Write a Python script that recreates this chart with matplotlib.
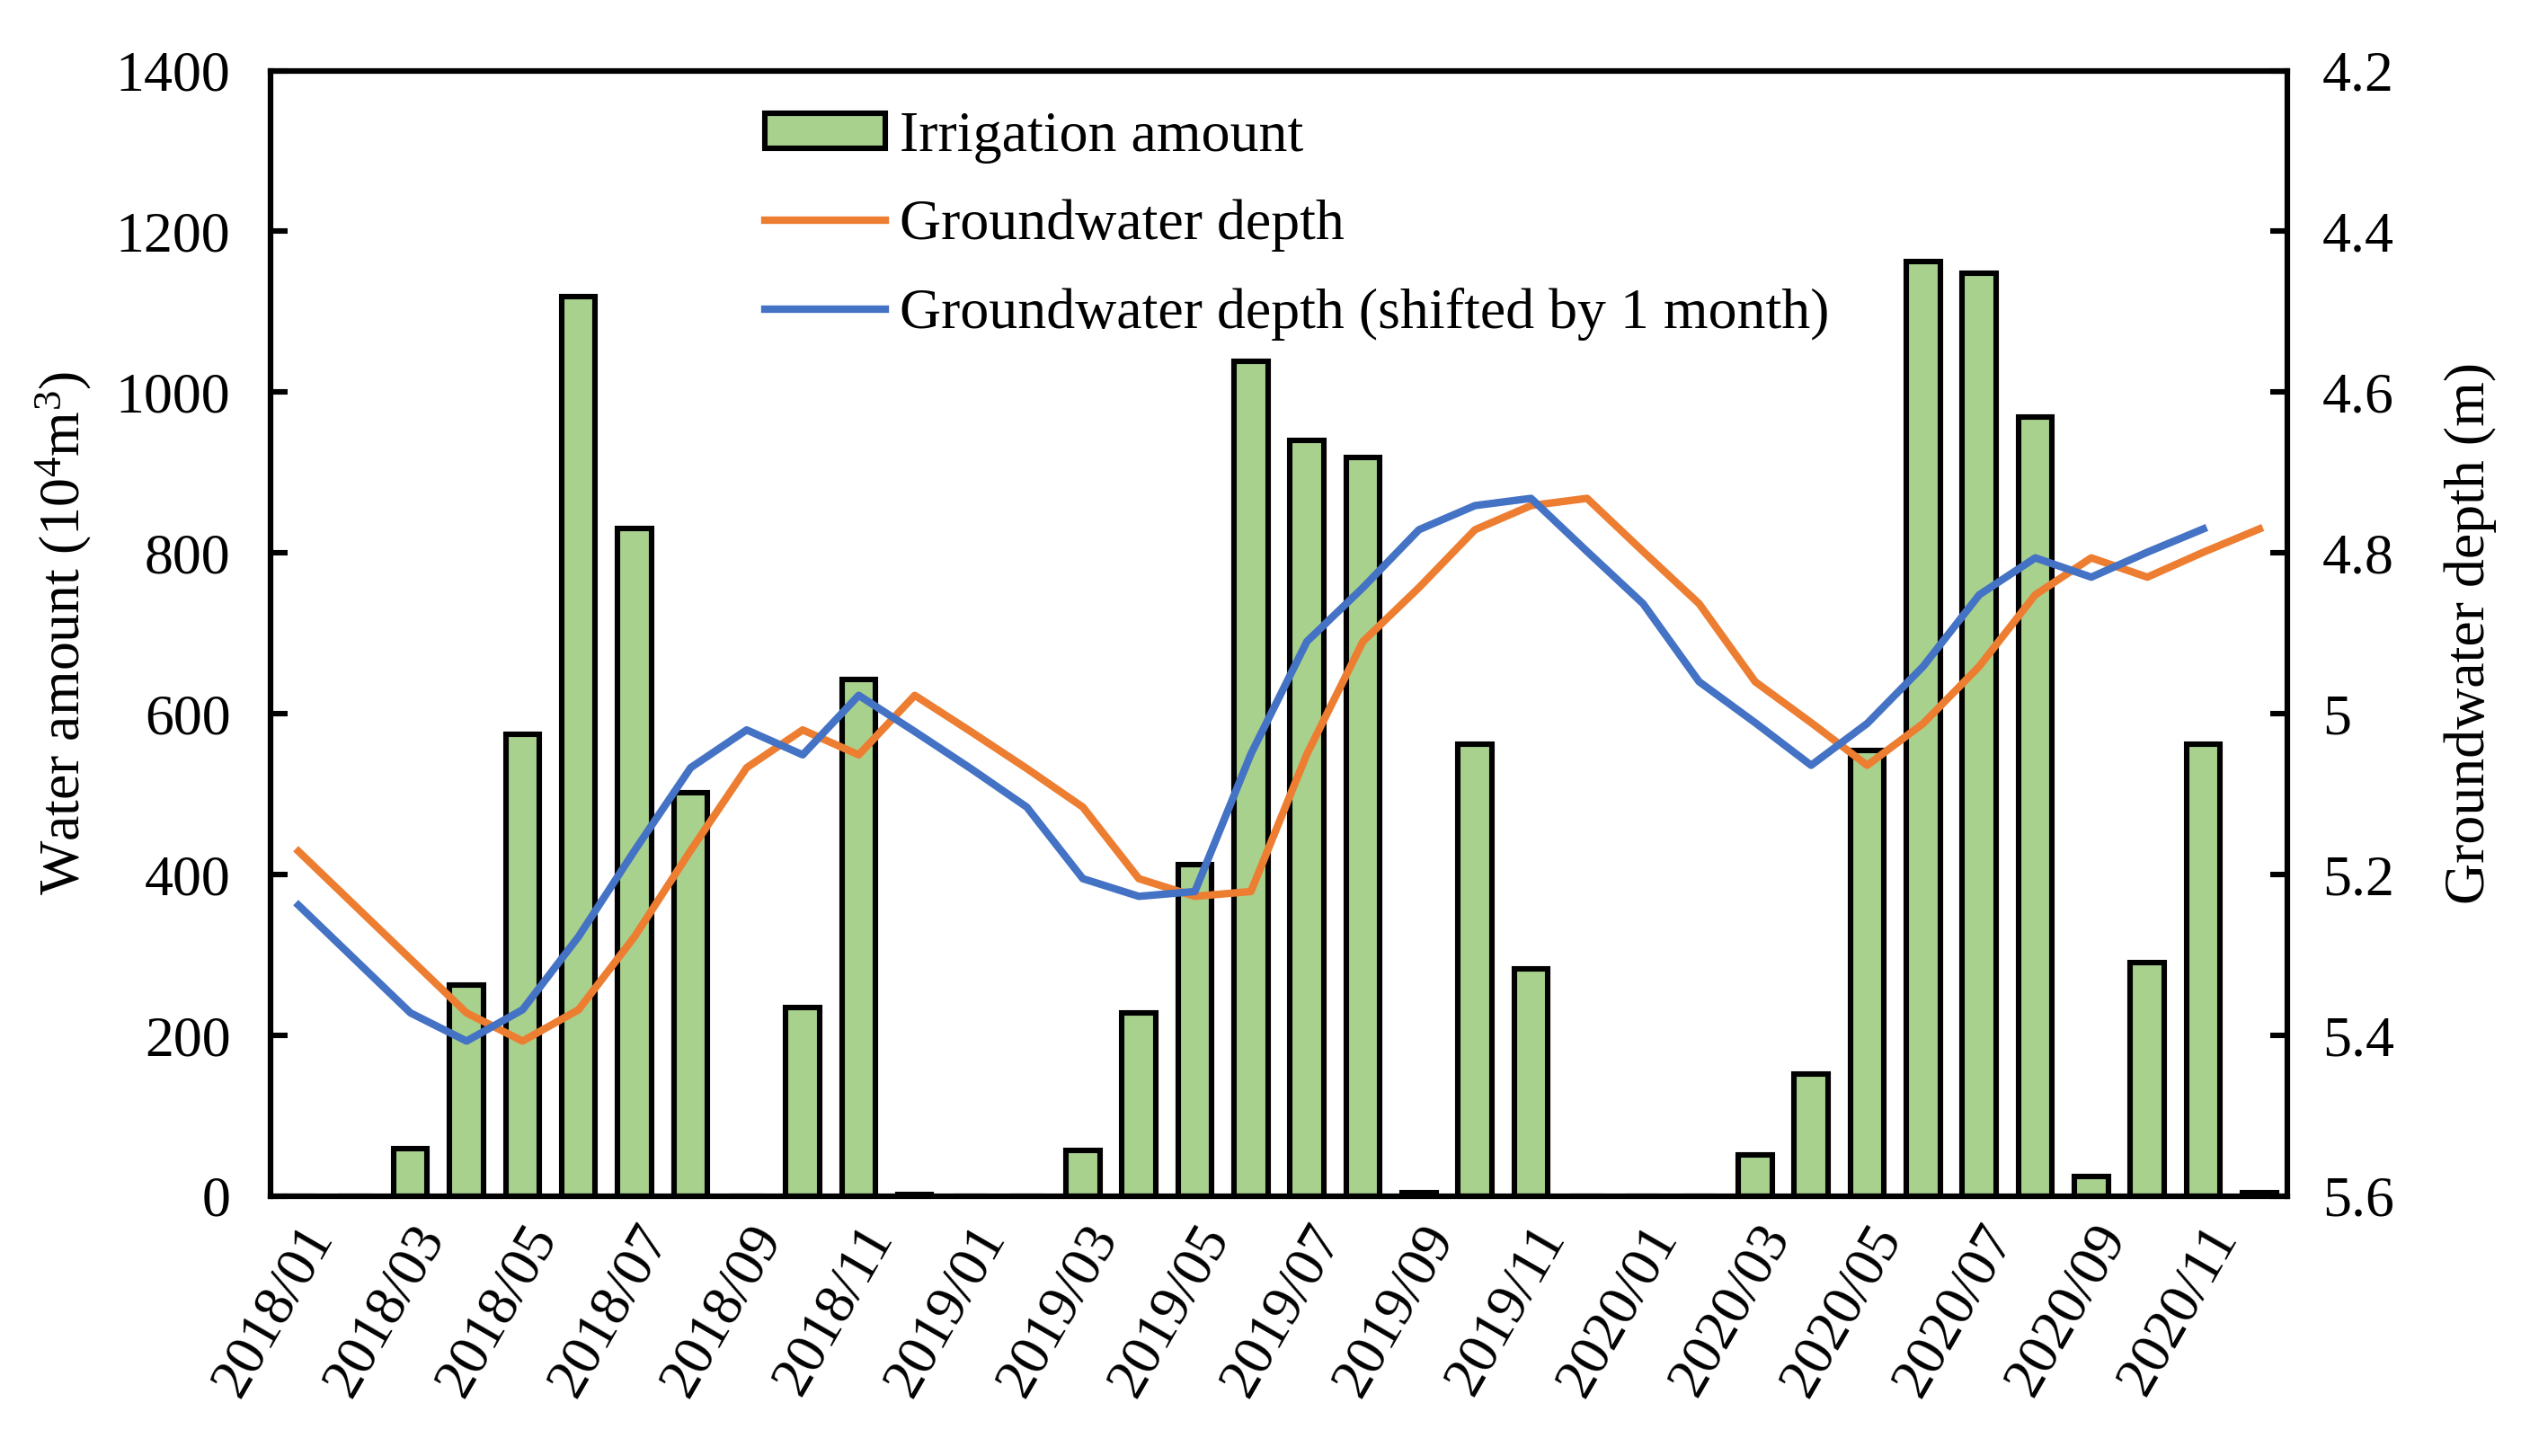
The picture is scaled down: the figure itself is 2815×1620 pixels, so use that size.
import numpy as np
import matplotlib.pyplot as plt

plt.rcParams["font.family"] = ["Liberation Serif", "DejaVu Serif"]
plt.rcParams["mathtext.fontset"] = "custom"
plt.rcParams["mathtext.rm"] = "Liberation Serif"
plt.rcParams["mathtext.it"] = "Liberation Serif:italic"

months = [f"{y}/{m:02d}" for y in (2018, 2019, 2020) for m in range(1, 13)]

irrigation = [0, 0, 59, 263, 575, 1119, 830, 502, 0, 235, 643, 2,
              0, 0, 57, 228, 413, 1039, 940, 919, 5, 562, 283, 0,
              0, 0, 51, 152, 554, 1163, 1148, 969, 25, 291, 562, 5]

depth = [5.171, 5.238, 5.305, 5.372, 5.407, 5.368, 5.277, 5.170, 5.067, 5.020, 5.051, 4.977,
         5.022, 5.068, 5.116, 5.205, 5.227, 5.221, 5.050, 4.910, 4.843, 4.771, 4.741, 4.732,
         4.798, 4.863, 4.960, 5.011, 5.064, 5.012, 4.941, 4.852, 4.806, 4.830, 4.799, 4.770]

# shifted series: each month shows the next month's depth
depth_shifted = depth[1:]

fs = 23
lw = 2.2

fig = plt.figure(figsize=(14.075, 8.1), dpi=200)
ax = fig.add_axes([0.1069, 0.1784, 0.7972, 0.7731])

x = np.arange(len(months))
bars = ax.bar(x, irrigation, width=0.6, color="#A9D18E", edgecolor="black",
              linewidth=lw, label="Irrigation amount", zorder=2)
ax.set_xlim(-0.5, len(months) - 0.5)
ax.set_ylim(0, 1400)
ax.set_yticks(np.arange(0, 1401, 200))
ax.set_xticks(x[::2])
ax.set_xticklabels(months[::2], rotation=60, ha="right", rotation_mode="anchor")
ax.tick_params(axis="x", length=0, pad=8, labelsize=fs)
ax.tick_params(axis="y", direction="in", length=6.8, width=lw, pad=16, labelsize=fs)
ax.set_ylabel(r"Water amount (10$^4$m$^3$)", fontsize=fs, labelpad=9)
for s in ax.spines.values():
    s.set_linewidth(lw)

ax2 = ax.twinx()
l1, = ax2.plot(x, depth, color="#ED7D31", lw=3.0, label="Groundwater depth")
l2, = ax2.plot(x[:-1], depth_shifted, color="#4472C4", lw=3.0,
               label="Groundwater depth (shifted by 1 month)")
ax2.set_ylim(5.6, 4.2)
ax2.set_yticks(np.arange(4.2, 5.61, 0.2))
ax2.set_yticklabels([f"{v:g}" for v in np.round(np.arange(4.2, 5.61, 0.2), 1)])
ax2.tick_params(axis="y", direction="in", length=6.8, width=lw, pad=14, labelsize=fs)
ax2.set_ylabel("Groundwater depth (m)", fontsize=fs, labelpad=20)
for s in ax2.spines.values():
    s.set_linewidth(lw)

ax2.legend([bars, l1, l2], [bars.get_label(), l1.get_label(), l2.get_label()],
           loc="upper left", bbox_to_anchor=(851 / 2815, 1 - 124 / 1620),
           bbox_transform=fig.transFigure, frameon=False, fontsize=fs,
           borderpad=0, borderaxespad=0, handlelength=2.1, handleheight=0.55,
           handletextpad=0.25, labelspacing=0.62)

fig.savefig("out.png", dpi=200)
